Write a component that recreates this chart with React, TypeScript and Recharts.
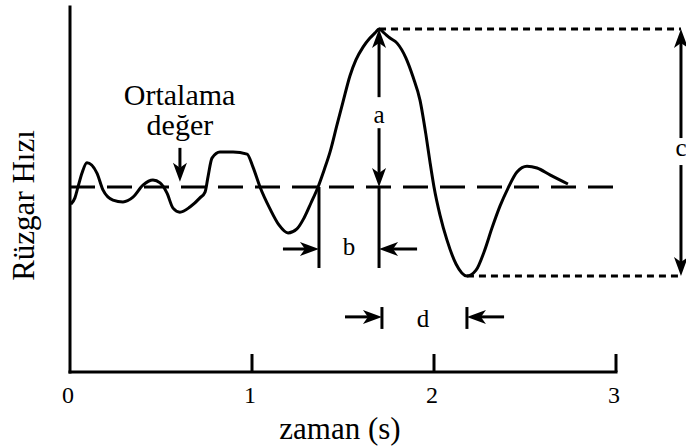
import React from 'react';
import { LineChart, Line, XAxis, YAxis, ReferenceLine, ReferenceDot } from 'recharts';

// Wind speed trace: time (s) and speed (relative units, 0–100)
const TIME = [
  0.005, 0.027, 0.044, 0.066, 0.093, 0.148, 0.181, 0.236, 0.291, 0.346,
  0.401, 0.456, 0.495, 0.533, 0.566, 0.604, 0.659, 0.714, 0.742, 0.758,
  0.780, 0.824, 0.896, 0.973, 1.005, 1.044, 1.099, 1.148, 1.198, 1.247,
  1.286, 1.324, 1.363, 1.396, 1.429, 1.467, 1.500, 1.538, 1.571, 1.610,
  1.648, 1.676, 1.698, 1.725, 1.758, 1.797, 1.846, 1.885, 1.923, 1.956,
  1.978, 2.000, 2.033, 2.071, 2.121, 2.181, 2.231, 2.275, 2.319, 2.363,
  2.407, 2.456, 2.511, 2.566, 2.637, 2.736,
];
const SPEED = [
  46.0, 47.7, 50.7, 54.5, 57.3, 54.5, 49.9, 47.1, 46.6, 47.9,
  51.2, 52.6, 51.8, 49.0, 44.9, 43.8, 45.2, 47.7, 49.3, 53.4,
  58.6, 60.3, 60.3, 59.7, 56.2, 50.7, 44.7, 40.3, 38.1, 39.2,
  42.2, 46.3, 50.7, 55.3, 60.3, 67.7, 74.0, 81.1, 85.5, 89.0,
  91.5, 92.9, 94.0, 92.9, 91.5, 90.1, 86.0, 80.8, 74.5, 64.9,
  57.5, 50.7, 43.0, 36.2, 29.6, 26.3, 27.9, 32.9, 39.5, 45.5,
  50.4, 54.8, 56.4, 55.9, 54.0, 51.5,
];

const X_TICKS = [0, 1, 2, 3];
const MEAN = 50.7;
const MEAN_END = 2.984;
const PEAK = { t: 1.698, v: 94.0 };
const TROUGH = { t: 2.181, v: 26.3 };
const RANGE_X = 3.357;

const data = TIME.map((t, i) => ({ t, v: SPEED[i] }));

const FONT = '"Liberation Serif", "Times New Roman", serif';
const INK = '#000';

// Line segment ending in a filled, notched arrowhead at (x2, y2)
const ArrowLine = (props: any) => {
  const { x1, y1, x2, y2 } = props;
  const dx = x2 - x1;
  const dy = y2 - y1;
  const len = Math.hypot(dx, dy) || 1;
  const ux = dx / len;
  const uy = dy / len;
  const nx = -uy;
  const ny = ux;
  const L = 19;
  const W = 7;
  const N = 5;
  const bx = x2 - ux * L;
  const by = y2 - uy * L;
  const ix = x2 - ux * (L - N);
  const iy = y2 - uy * (L - N);
  const d = `M${x2},${y2} L${bx + nx * W},${by + ny * W} L${ix},${iy} L${bx - nx * W},${by - ny * W} Z`;
  return (
    <g>
      <line x1={x1} y1={y1} x2={ix} y2={iy} stroke={INK} strokeWidth={3} />
      <path d={d} fill={INK} />
    </g>
  );
};

const textShape = (text: string, size: number) => (p: any) => (
  <text x={p.cx} y={p.cy} textAnchor="middle" fontFamily={FONT} fontSize={size} fill={INK}>
    {text}
  </text>
);

const YTitle = (props: any) => {
  const vb = props.viewBox || { x: 0, y: 7, width: 70, height: 365 };
  const cx = vb.x + 34;
  const cy = vb.y + vb.height / 2 + 16;
  return (
    <text
      x={cx}
      y={cy}
      transform={`rotate(-90 ${cx} ${cy})`}
      textAnchor="middle"
      fontFamily={FONT}
      fontSize={31}
      fill={INK}
    >
      Rüzgar Hızı
    </text>
  );
};

const XTitle = (props: any) => {
  const vb = props.viewBox || { x: 70, y: 372, width: 546, height: 76 };
  return (
    <text
      x={vb.x + vb.width / 2 - 3}
      y={vb.y + 67}
      textAnchor="middle"
      fontFamily={FONT}
      fontSize={31}
      fill={INK}
    >
      zaman (s)
    </text>
  );
};

const seg = (x1: number, y1: number, x2: number, y2: number) => [
  { x: x1, y: y1 },
  { x: x2, y: y2 },
];

export default function App() {
  return (
    <div style={{ position: 'absolute', left: 0, top: 0, background: '#fff' }}>
      <LineChart
        width={686}
        height={448}
        data={data}
        margin={{ top: 7, right: 70, bottom: 0, left: 0 }}
      >
        <XAxis
          dataKey="t"
          type="number"
          domain={[0, 3]}
          ticks={X_TICKS}
          height={76}
          axisLine={{ stroke: INK, strokeWidth: 3, strokeLinecap: 'square' }}
          tickLine={false}
          tickSize={0}
          tickMargin={14}
          tick={{ fontSize: 24, fill: INK, fontFamily: FONT, dx: -2 }}
          label={{ content: XTitle }}
        />
        <YAxis
          type="number"
          domain={[0, 100]}
          width={70}
          tick={false}
          tickLine={false}
          axisLine={{ stroke: INK, strokeWidth: 3, strokeLinecap: 'square' }}
          label={{ content: YTitle }}
        />

        {/* inner tick marks on the time axis */}
        {X_TICKS.slice(1).map((t) => (
          <ReferenceLine key={`tk${t}`} segment={seg(t, 0, t, 4.93)} stroke={INK} strokeWidth={3} ifOverflow="visible" />
        ))}

        {/* mean value */}
        <ReferenceLine segment={seg(0, MEAN, MEAN_END, MEAN)} stroke={INK} strokeWidth={3} strokeDasharray="25 12" />

        {/* peak and trough levels */}
        <ReferenceLine segment={seg(PEAK.t, PEAK.v, RANGE_X, PEAK.v)} stroke={INK} strokeWidth={3} strokeDasharray="7 5" ifOverflow="visible" />
        <ReferenceLine segment={seg(TROUGH.t, TROUGH.v, RANGE_X, TROUGH.v)} stroke={INK} strokeWidth={3} strokeDasharray="7 5" ifOverflow="visible" />

        {/* a: gust amplitude above mean */}
        <ReferenceLine segment={seg(PEAK.t, 75.3, PEAK.t, PEAK.v)} shape={ArrowLine} />
        <ReferenceLine segment={seg(PEAK.t, 66.8, PEAK.t, MEAN)} shape={ArrowLine} />

        {/* c: peak-to-trough range */}
        <ReferenceLine segment={seg(RANGE_X, 64.1, RANGE_X, PEAK.v)} shape={ArrowLine} ifOverflow="visible" />
        <ReferenceLine segment={seg(RANGE_X, 56.7, RANGE_X, TROUGH.v)} shape={ArrowLine} ifOverflow="visible" />

        {/* b: rise time */}
        <ReferenceLine segment={seg(1.368, MEAN, 1.368, 28.5)} stroke={INK} strokeWidth={3} />
        <ReferenceLine segment={seg(PEAK.t, MEAN, PEAK.t, 28.5)} stroke={INK} strokeWidth={3} />
        <ReferenceLine segment={seg(1.170, 33.7, 1.368, 33.7)} shape={ArrowLine} />
        <ReferenceLine segment={seg(1.907, 33.7, PEAK.t, 33.7)} shape={ArrowLine} />

        {/* d: peak-to-trough time */}
        <ReferenceLine segment={seg(1.714, 11.8, 1.714, 17.8)} stroke={INK} strokeWidth={3} />
        <ReferenceLine segment={seg(TROUGH.t, 11.8, TROUGH.t, 17.8)} stroke={INK} strokeWidth={3} />
        <ReferenceLine segment={seg(1.511, 15.1, 1.714, 15.1)} shape={ArrowLine} />
        <ReferenceLine segment={seg(2.385, 15.1, TROUGH.t, 15.1)} shape={ArrowLine} />

        {/* mean value callout */}
        <ReferenceLine segment={seg(0.604, 61.4, 0.604, 52.1)} shape={ArrowLine} />

        <Line
          type="monotone"
          dataKey="v"
          stroke={INK}
          strokeWidth={3}
          dot={false}
          activeDot={false}
          isAnimationActive={false}
        />

        <ReferenceDot x={0.602} y={73.2} r={0} shape={textShape('Ortalama', 30)} />
        <ReferenceDot x={0.604} y={64.9} r={0} shape={textShape('değer', 30)} />
        <ReferenceDot x={PEAK.t} y={68.2} r={0} shape={textShape('a', 25)} />
        <ReferenceDot x={1.533} y={32.1} r={0} shape={textShape('b', 25)} />
        <ReferenceDot x={RANGE_X} y={59.2} r={0} shape={textShape('c', 25)} ifOverflow="visible" />
        <ReferenceDot x={1.94} y={12.3} r={0} shape={textShape('d', 25)} />
      </LineChart>
    </div>
  );
}
